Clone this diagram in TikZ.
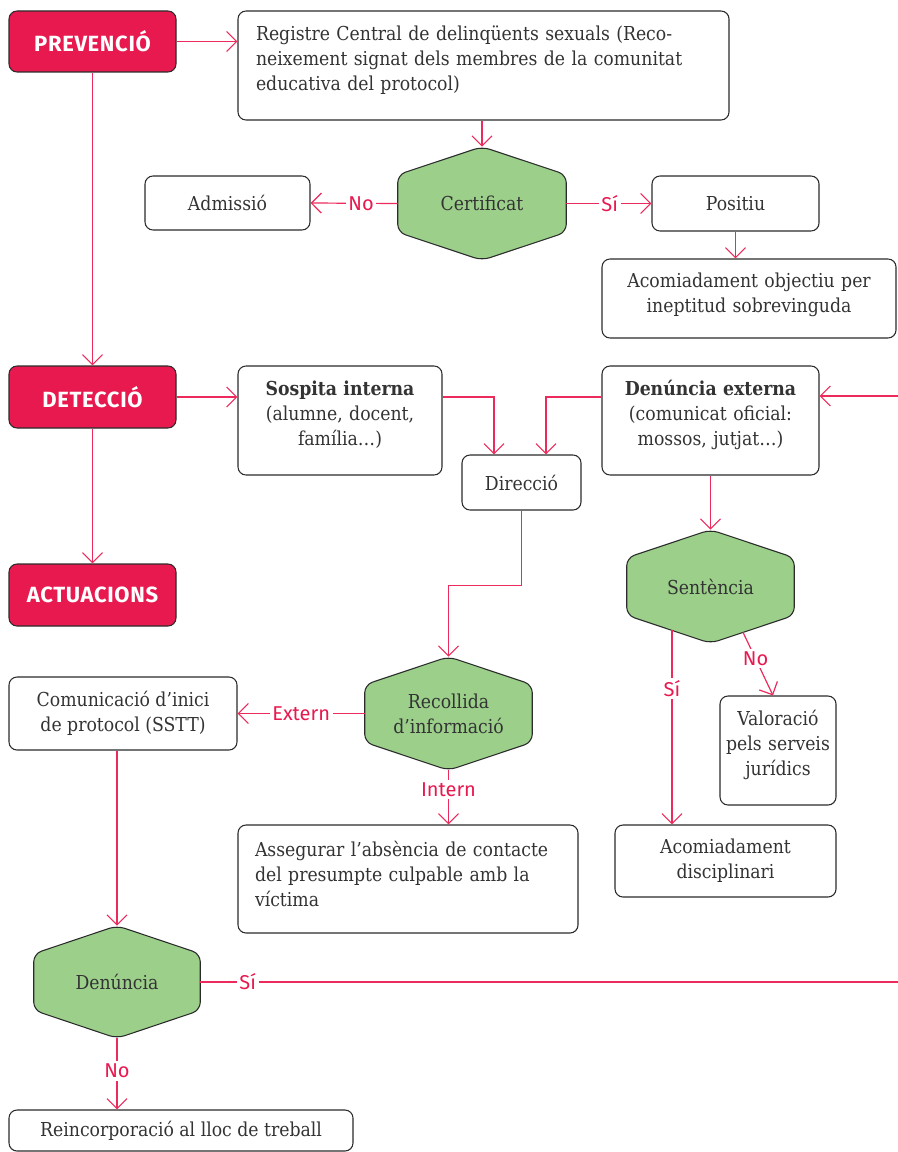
\documentclass[tikz,border=0pt]{standalone}
\usepackage{fontspec}
\setmainfont{DejaVu Serif Condensed}
\newfontfamily\labfont{Fira Sans}
\usetikzlibrary{arrows.meta,calc,backgrounds}
\definecolor{crim}{HTML}{E8194F}
\definecolor{linec}{HTML}{EC2A5C}
\definecolor{hexg}{HTML}{9BCF8A}
\definecolor{txt}{HTML}{333333}
\definecolor{bord}{HTML}{2B2B2B}
\newcommand\msz{\fontsize{14.4}{18.75}\selectfont}
\newcommand\lsz{\labfont\fontsize{15}{16}\selectfont}
\newcommand\hsz{\labfont\bfseries\fontsize{16.5}{18}\selectfont\addfontfeatures{LetterSpace=3}}
\newcommand\hexpath[1]{\path[hexfill] (#1.north) -- ($(#1.north east)+(0,28)$) -- ($(#1.south east)+(0,-28)$) -- (#1.south) -- ($(#1.south west)+(0,-28)$) -- ($(#1.north west)+(0,28)$) -- cycle;}
\begin{document}
\begin{tikzpicture}[x=0.75pt,y=-0.75pt,
  box/.style={draw=bord, line width=0.8pt, rounded corners=6pt, fill=white, text=txt, font=\msz, align=center, inner sep=0pt},
  sz/.style 2 args={minimum width=#1*0.75pt, minimum height=#2*0.75pt},
  head/.style={box, fill=crim, text=white, font=\hsz},
  hex/.style={draw=none, fill=none, text=txt, font=\msz, align=center, inner sep=0pt},
  hexfill/.style={draw=bord, line width=0.8pt, fill=hexg, rounded corners=6pt},
  conn/.style={draw=linec, line width=0.9pt, -{Straight Barb[length=7.5pt,width=15pt]}},
  lbl/.style={fill=white, text=crim, font=\lsz, inner sep=2pt}]
\useasboundingbox (0,0) rectangle (897,1152);

% header boxes
\node[head, sz={167}{61}] (prev) at (92.5,41.5) {PREVENCIÓ};
\node[head, sz={167}{62}] (det) at (92.5,397) {DETECCIÓ};
\node[head, sz={167}{62}] (act) at (92.5,595) {ACTUACIONS};

% prevention
\node[box, sz={491}{109}, text width=455*0.75pt, align=left] (reg) at (483.5,65.5)
  {Registre Central de delinqüents sexuals (Reco-\\neixement signat dels membres de la comunitat\\educativa del protocol)\par\vspace{8pt}};
\node[hex, sz={168}{113}] (cert) at (482,203.5) {Certificat};
\node[box, sz={165}{54}] (adm) at (227.5,203) {Admissió};
\node[box, sz={167}{55}] (pos) at (735.5,203.5) {Positiu};
\node[box, sz={294}{79}, text width=285*0.75pt] (acoobj) at (749,298.5)
  {Acomiadament objectiu per\\ineptitud sobrevinguda\par\vspace{5pt}};

% detection
\node[box, sz={204}{109}, text width=198*0.75pt] (sosp) at (340,420.5)
  {\textbf{Sospita interna}\\(alumne, docent,\\família…)\par\vspace{9pt}};
\node[box, sz={119}{55}] (dir) at (521.5,482.5) {Direcció};
\node[box, sz={217}{109}, text width=210*0.75pt] (denext) at (710.5,420.5)
  {\textbf{Denúncia externa}\\(comunicat oficial:\\mossos, jutjat…)\par\vspace{9pt}};
\node[hex, sz={167}{113}] (sent) at (710.5,586.5) {Sentència};
\node[box, sz={116}{109}, text width=114*0.75pt] (val) at (778,750.5)
  {Valoració\\pels serveis\\jurídics\par\vspace{8pt}};
\node[box, sz={221}{72}] (acodis) at (725.5,861) {Acomiadament\\disciplinari};

% actions
\node[hex, sz={167}{113}] (rec) at (448.5,713.5) {Recollida\\d’informació};
\node[box, sz={228}{73}] (com) at (123,713.5) {Comunicació d’inici\\de protocol (SSTT)};
\node[box, sz={340}{108}, text width=306*0.75pt, align=left] (ass) at (408,879)
  {Assegurar l’absència de contacte\\del presumpte culpable amb la\\víctima\par\vspace{7pt}};
\node[hex, sz={166}{112}] (den) at (117,982) {Denúncia};
\node[box, sz={344}{41}] (reinc) at (181,1130.5) {\raisebox{-2pt}{Reincorporació al lloc de treball}};

\begin{scope}[on background layer]
\hexpath{cert}
\hexpath{sent}
\hexpath{rec}
\hexpath{den}
\end{scope}

% connectors
\draw[conn] (prev.east) -- (reg.west |- prev.east);
\draw[conn] (prev.south) -- (det.north);
\draw[conn] (det.south) -- (act.north);
\draw[conn] (cert.north |- reg.south) -- (cert.north);
\draw[conn] (cert.west) -- node[lbl, pos=0.42] {No} (adm.east);
\draw[conn] (cert.east) -- node[lbl, pos=0.51] {Sí} (pos.west);
\draw[conn] (pos.south) -- (pos.south |- acoobj.north);

\draw[conn] (det.east) -- (sosp.west |- det.east);
\draw[conn] (sosp.east |- det.east) -| ($(dir.north)+(-27.5,0)$);
\draw[conn] (denext.west |- det.east) -| ($(dir.north)+(24.5,0)$);
\draw[conn] (denext.south) -- (sent.north);
\draw[conn] ($(sent.south)+(-38.5,-13)$) coordinate (sy) -- node[lbl, pos=0.3] {Sí} (sy |- acodis.north);
\draw[conn] ($(sent.south)+(32.5,-11)$) -- node[lbl, pos=0.42] {No} ($(val.north)+(-5,0)$);

\draw[conn] (dir.south) -- ++(0,75) -| (rec.north);
\draw[conn] (rec.west) -- node[lbl, pos=0.5] {Extern} (com.east |- rec.west);
\draw[conn] (rec.south) -- node[lbl, pos=0.36] {Intern} (rec.south |- ass.north);
\draw[conn] (den.north |- com.south) -- (den.north);
\draw[conn] (den.south) -- node[lbl, pos=0.46] {No} (den.south |- reinc.north);

\coordinate (rt1) at (930,982);
\coordinate (rt2) at (930,396);
\draw[conn] (den.east) -- node[lbl, pos=0.065] {Sí} (rt1) -- (rt2) -- (denext.east |- rt2);
\end{tikzpicture}
\end{document}
